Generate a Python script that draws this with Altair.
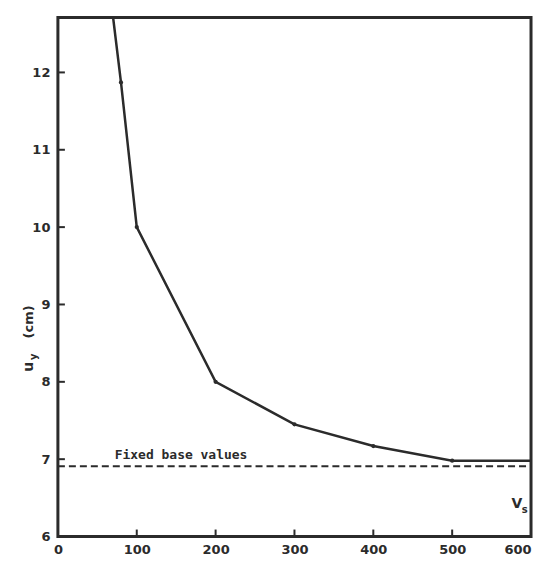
import altair as alt
import pandas as pd

vs = [70, 80, 100, 200, 300, 400, 500, 600]
uy = [12.71, 11.87, 10.0, 8.0, 7.45, 7.17, 6.98, 6.98]
pt_vs = [80, 100, 200, 300, 400, 500]
pt_uy = [11.87, 10.0, 8.0, 7.45, 7.17, 6.98]
base_x = [0, 600]
base_y = [6.91, 6.91]
x_ticks = [0, 100, 200, 300, 400, 500, 600]
y_ticks = [6, 7, 8, 9, 10, 11, 12]

INK = "#2b2b2b"
FONT = "DejaVu Sans"

curve = pd.DataFrame({"vs": vs, "uy": uy})
pts = pd.DataFrame({"vs": pt_vs, "uy": pt_uy})
base = pd.DataFrame({"vs": base_x, "uy": base_y})

xs = alt.Scale(domain=[0, 600], nice=False)
ys = alt.Scale(domain=[6, 12.71], nice=False, zero=False)

xax = alt.Axis(values=x_ticks, ticks=False, domain=False, grid=False, labelFont=FONT,
               labelFontWeight="bold", labelFontSize=13, labelColor=INK, labelPadding=7,
               labelFlush=False, labelOverlap=False, format="d", title=None,
               labelAlign={"condition": {"test": "datum.value >= 600", "value": "right"},
                           "value": "center"})
yax = alt.Axis(values=y_ticks, ticks=False, domain=False, grid=False, labelFont=FONT,
               labelFontWeight="bold", labelFontSize=13, labelColor=INK, labelPadding=8,
               labelFlush=False, labelOverlap=False, format="d", title=None)

line = alt.Chart(curve).mark_line(color=INK, strokeWidth=2.5, clip=True).encode(
    x=alt.X("vs:Q", scale=xs, axis=xax),
    y=alt.Y("uy:Q", scale=ys, axis=yax),
)
dots = alt.Chart(pts).mark_point(filled=True, color=INK, size=18, opacity=1).encode(
    x=alt.X("vs:Q", scale=xs), y=alt.Y("uy:Q", scale=ys))
dash = alt.Chart(base).mark_line(color=INK, strokeWidth=2, strokeDash=[7, 4]).encode(
    x=alt.X("vs:Q", scale=xs), y=alt.Y("uy:Q", scale=ys))

xt = pd.DataFrame({"v": x_ticks[1:-1]})
xtick = alt.Chart(xt).mark_rule(color=INK, strokeWidth=2).encode(
    x=alt.X("v:Q", scale=xs), y=alt.value(520), y2=alt.value(513))
yt = pd.DataFrame({"v": y_ticks[1:]})
ytick = alt.Chart(yt).mark_rule(color=INK, strokeWidth=2).encode(
    y=alt.Y("v:Q", scale=ys), x=alt.value(0), x2=alt.value(7))

label = alt.Chart(pd.DataFrame({"vs": [72], "uy": [6.97], "t": ["Fixed base values"]})).mark_text(
    align="left", baseline="bottom", font="DejaVu Sans Mono", fontWeight="bold", fontSize=13,
    color=INK).encode(x=alt.X("vs:Q", scale=xs), y=alt.Y("uy:Q", scale=ys), text="t:N")
vlab = alt.Chart(pd.DataFrame({"vs": [582], "uy": [6.42], "t": ["V"]})).mark_text(
    align="center", baseline="middle", font=FONT, fontWeight="bold", fontSize=14,
    color=INK).encode(x=alt.X("vs:Q", scale=xs), y=alt.Y("uy:Q", scale=ys), text="t:N")
slab = alt.Chart(pd.DataFrame({"vs": [592], "uy": [6.34], "t": ["s"]})).mark_text(
    align="center", baseline="middle", font=FONT, fontWeight="bold", fontSize=10,
    color=INK).encode(x=alt.X("vs:Q", scale=xs), y=alt.Y("uy:Q", scale=ys), text="t:N")

# rotated y-axis title: u_y (cm)
t_u = alt.Chart(pd.DataFrame({"t": ["u"]})).mark_text(
    angle=270, font=FONT, fontWeight="bold", fontSize=14, color=INK,
    align="center", baseline="middle").encode(
    text="t:N", x=alt.value(-29), y=alt.value(350))
t_y = alt.Chart(pd.DataFrame({"t": ["y"]})).mark_text(
    angle=270, font=FONT, fontWeight="bold", fontSize=10, color=INK,
    align="center", baseline="middle").encode(
    text="t:N", x=alt.value(-24), y=alt.value(340))
t_cm = alt.Chart(pd.DataFrame({"t": ["(cm)"]})).mark_text(
    angle=270, font=FONT, fontWeight="bold", fontSize=13, color=INK,
    align="center", baseline="middle").encode(
    text="t:N", x=alt.value(-29), y=alt.value(305))

chart = alt.layer(dash, line, dots, xtick, ytick, label, vlab, slab, t_u, t_y, t_cm).properties(
    width=474, height=520,
    autosize=alt.AutoSizeParams(type="none"),
    padding={"left": 50, "top": 9, "right": 10, "bottom": 22},
    background="white",
).configure_view(stroke=INK, strokeWidth=3)

chart.save("out.html", embed_options={"renderer": "svg", "actions": False})
